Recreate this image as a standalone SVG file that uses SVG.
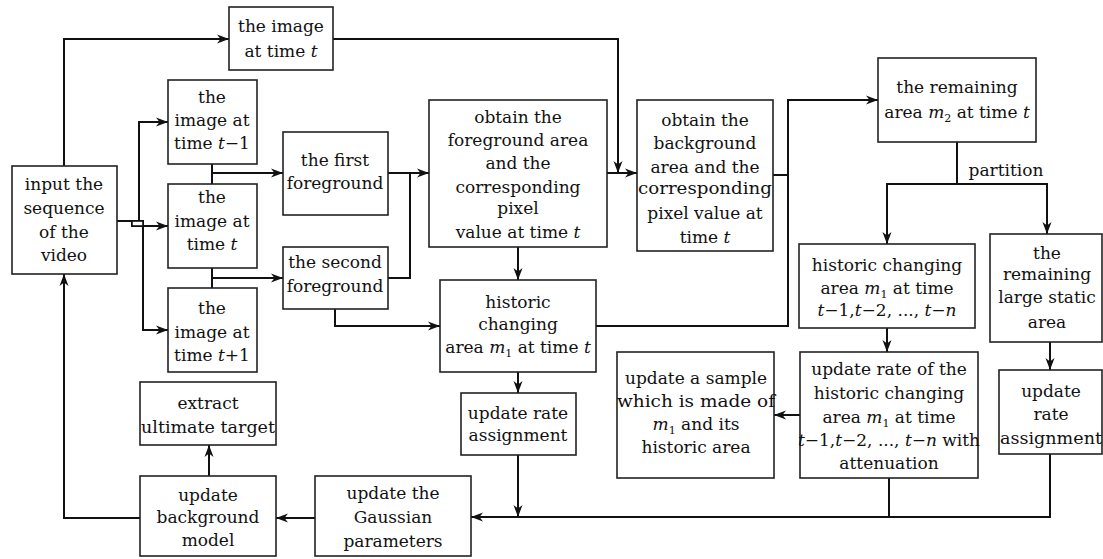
<svg xmlns="http://www.w3.org/2000/svg" width="1103" height="559" viewBox="0 0 1103 559">
<style>
.b{fill:#fff;stroke:#222;stroke-width:1.6}
.c{fill:none;stroke:#111;stroke-width:2}
text{font-family:"DejaVu Serif","Liberation Serif",serif;font-size:17px;fill:#111;text-anchor:middle}
.i{font-style:italic}
.s{font-size:11px}
</style>
<defs>
<marker id="a" markerUnits="userSpaceOnUse" markerWidth="14" markerHeight="10" refX="12" refY="5" orient="auto">
<path d="M0,0.5 L12,5 L0,9.5 L3.5,5 z" fill="#111"/>
</marker>
</defs>
<rect width="1103" height="559" fill="#fff"/>
<g id="connectors">
<path class="c" d="M64,166 V39 H229" marker-end="url(#a)"/>
<path class="c" d="M333,39 H618 V173" marker-end="url(#a)"/>
<path class="c" d="M139,221 V122 H168" marker-end="url(#a)"/>
<path class="c" d="M117,221 H143 V330 H168" marker-end="url(#a)"/>
<path class="c" d="M132,221 V226 H168" marker-end="url(#a)"/>
<path class="c" d="M212,164 V184"/>
<path class="c" d="M212,173 H283" marker-end="url(#a)"/>
<path class="c" d="M212,268 V288"/>
<path class="c" d="M212,278 H283" marker-end="url(#a)"/>
<path class="c" d="M388,173 H429" marker-end="url(#a)"/>
<path class="c" d="M388,278 H410 V173"/>
<path class="c" d="M335,309 V326 H440" marker-end="url(#a)"/>
<path class="c" d="M607,173 H637" marker-end="url(#a)"/>
<path class="c" d="M518,247 V280" marker-end="url(#a)"/>
<path class="c" d="M773,175 H788"/>
<path class="c" d="M596,326 H788 V100 H878" marker-end="url(#a)"/>
<path class="c" d="M957,142 V184"/>
<path class="c" d="M957,184 H887 V244" marker-end="url(#a)"/>
<path class="c" d="M957,184 H1047 V234" marker-end="url(#a)"/>
<path class="c" d="M887,328 V352" marker-end="url(#a)"/>
<path class="c" d="M1050,342 V370" marker-end="url(#a)"/>
<path class="c" d="M800,415 H774" marker-end="url(#a)"/>
<path class="c" d="M518,372 V393" marker-end="url(#a)"/>
<path class="c" d="M518,455 V517" marker-end="url(#a)"/>
<path class="c" d="M889,478 V517"/>
<path class="c" d="M1050,454 V517 H471" marker-end="url(#a)"/>
<path class="c" d="M315,518 H276" marker-end="url(#a)"/>
<path class="c" d="M209,476 V445" marker-end="url(#a)"/>
<path class="c" d="M140,518 H64 V274" marker-end="url(#a)"/>
<rect x="132" y="221" width="11" height="5" fill="#fff" stroke="#111" stroke-width="1.6"/>
<text x="1006" y="176">partition</text>
</g>
<g id="top-image">
<rect class="b" x="229" y="7" width="104" height="63"/>
<text x="281" y="32">the image</text>
<text x="281" y="57">at time <tspan class="i">t</tspan></text>
</g>
<g id="input">
<rect class="b" x="12" y="166" width="105" height="108"/>
<text x="64" y="190">input the</text>
<text x="64" y="214">sequence</text>
<text x="64" y="238">of the</text>
<text x="64" y="261">video</text>
</g>
<g id="img-t-1">
<rect class="b" x="168" y="80" width="89" height="84"/>
<text x="212" y="103">the</text>
<text x="212" y="126">image at</text>
<text x="212" y="149">time <tspan class="i">t</tspan>−1</text>
</g>
<g id="img-t">
<rect class="b" x="168" y="184" width="89" height="84"/>
<text x="212" y="203">the</text>
<text x="212" y="227">image at</text>
<text x="212" y="250">time <tspan class="i">t</tspan></text>
</g>
<g id="img-t1">
<rect class="b" x="168" y="288" width="89" height="84"/>
<text x="212" y="314">the</text>
<text x="212" y="338">image at</text>
<text x="212" y="361">time <tspan class="i">t</tspan>+1</text>
</g>
<g id="first-fg">
<rect class="b" x="283" y="132" width="105" height="83"/>
<text x="335" y="166">the first</text>
<text x="335" y="189">foreground</text>
</g>
<g id="second-fg">
<rect class="b" x="283" y="247" width="105" height="62"/>
<text x="335" y="268">the second</text>
<text x="335" y="292">foreground</text>
</g>
<g id="fg-area">
<rect class="b" x="429" y="100" width="178" height="147"/>
<text x="518" y="123">obtain the</text>
<text x="518" y="146">foreground area</text>
<text x="518" y="169">and the</text>
<text x="518" y="193">corresponding</text>
<text x="518" y="214">pixel</text>
<text x="518" y="238">value at time <tspan class="i">t</tspan></text>
</g>
<g id="bg-area">
<rect class="b" x="637" y="100" width="136" height="151"/>
<text x="705" y="126">obtain the</text>
<text x="705" y="149">background</text>
<text x="705" y="173">area and the</text>
<text x="705" y="194" textLength="134" lengthAdjust="spacingAndGlyphs">corresponding</text>
<text x="705" y="219">pixel value at</text>
<text x="705" y="243">time <tspan class="i">t</tspan></text>
</g>
<g id="remaining-m2">
<rect class="b" x="878" y="58" width="158" height="84"/>
<text x="957" y="93">the remaining</text>
<text x="957" y="118">area <tspan class="i">m</tspan><tspan class="s" dy="4">2</tspan><tspan dy="-4"> at time </tspan><tspan class="i">t</tspan></text>
</g>
<g id="historic-t">
<rect class="b" x="440" y="280" width="156" height="92"/>
<text x="518" y="308">historic</text>
<text x="518" y="330">changing</text>
<text x="518" y="353">area <tspan class="i">m</tspan><tspan class="s" dy="4">1</tspan><tspan dy="-4"> at time </tspan><tspan class="i">t</tspan></text>
</g>
<g id="historic-tn">
<rect class="b" x="799" y="244" width="176" height="84"/>
<text x="887" y="271">historic changing</text>
<text x="887" y="294">area <tspan class="i">m</tspan><tspan class="s" dy="4">1</tspan><tspan dy="-4"> at time</tspan></text>
<text x="887" y="316"><tspan class="i">t</tspan>−1,<tspan class="i">t</tspan>−2, ..., <tspan class="i">t</tspan>−<tspan class="i">n</tspan></text>
</g>
<g id="static-area">
<rect class="b" x="990" y="234" width="112" height="108"/>
<text x="1047" y="259">the</text>
<text x="1047" y="280">remaining</text>
<text x="1047" y="303">large static</text>
<text x="1047" y="328">area</text>
</g>
<g id="rate-assign-mid">
<rect class="b" x="461" y="393" width="115" height="62"/>
<text x="518" y="419">update rate</text>
<text x="518" y="441">assignment</text>
</g>
<g id="sample">
<rect class="b" x="617" y="352" width="157" height="126"/>
<text x="696" y="384">update a sample</text>
<text x="696" y="407" textLength="158" lengthAdjust="spacingAndGlyphs">which is made of</text>
<text x="696" y="430"><tspan class="i">m</tspan><tspan class="s" dy="4">1</tspan><tspan dy="-4"> and its</tspan></text>
<text x="696" y="453">historic area</text>
</g>
<g id="rate-historic">
<rect class="b" x="800" y="352" width="178" height="126"/>
<text x="889" y="375">update rate of the</text>
<text x="889" y="399">historic changing</text>
<text x="889" y="423">area <tspan class="i">m</tspan><tspan class="s" dy="4">1</tspan><tspan dy="-4"> at time</tspan></text>
<text x="889" y="446" textLength="182" lengthAdjust="spacingAndGlyphs"><tspan class="i">t</tspan>−1,<tspan class="i">t</tspan>−2, ..., <tspan class="i">t</tspan>−<tspan class="i">n</tspan> with</text>
<text x="889" y="469">attenuation</text>
</g>
<g id="rate-assign-right">
<rect class="b" x="999" y="370" width="103" height="84"/>
<text x="1051" y="397">update</text>
<text x="1051" y="420">rate</text>
<text x="1051" y="444" textLength="102" lengthAdjust="spacingAndGlyphs">assignment</text>
</g>
<g id="extract">
<rect class="b" x="140" y="382" width="136" height="63"/>
<text x="208" y="409">extract</text>
<text x="208" y="433" textLength="134" lengthAdjust="spacingAndGlyphs">ultimate target</text>
</g>
<g id="bg-model">
<rect class="b" x="140" y="476" width="136" height="80"/>
<text x="208" y="501">update</text>
<text x="208" y="523">background</text>
<text x="208" y="546">model</text>
</g>
<g id="gaussian">
<rect class="b" x="315" y="476" width="156" height="80"/>
<text x="393" y="499">update the</text>
<text x="393" y="523">Gaussian</text>
<text x="393" y="547">parameters</text>
</g>
</svg>
